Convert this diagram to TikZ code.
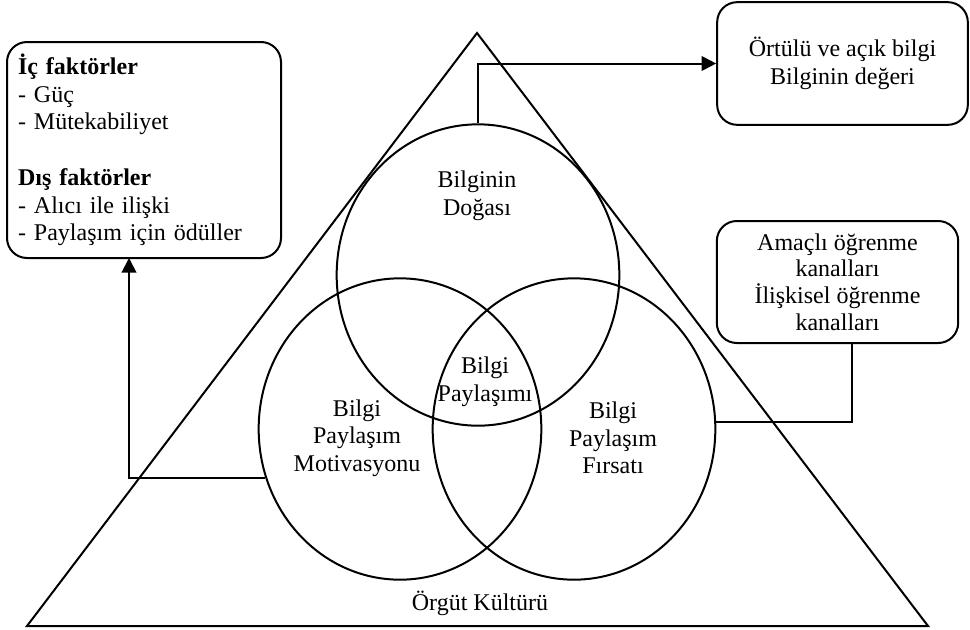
\documentclass[tikz,border=0pt]{standalone}
\usepackage{fontspec}
\setmainfont{Liberation Serif}
\usepackage{tikz}
\usetikzlibrary{positioning, arrows.meta, shapes}
\tikzset{
    kutu/.style={draw, rectangle, rounded corners=15pt, line width=1.5pt, align=center, inner sep=0pt, font=\fontsize{18}{20.8}\selectfont},
    daire/.style={draw, ellipse, line width=1.5pt, minimum width=212pt, minimum height=226pt, inner sep=0pt},
    yazi/.style={align=center, inner sep=0pt, font=\fontsize{18}{20.8}\selectfont},
    conn/.style={-, line width=1.5pt},
    ok/.style={-{Triangle[length=11pt, width=11pt]}, line width=1.5pt},
}
\begin{document}
\begin{tikzpicture}[x=0.75pt, y=-0.75pt]
        \useasboundingbox (0,0) rectangle (970,629);

        \coordinate (tepe) at (477,33);
        \coordinate (solAlt) at (27,626);
        \coordinate (sagAlt) at (928,626);
        \draw[line width=1.5pt, line join=miter] (tepe) -- (solAlt) -- (sagAlt) -- cycle;

        \node[daire] (dogasi) at (478,275) {};
        \node[daire] (motiv) at (400,429) {};
        \node[daire] (firsat) at (574,429) {};

        \node[yazi] (tDogasi) at (477,196) {Bilginin\\Doğası};
        \node[yazi] (tPay) at (485,382) {Bilgi\\Paylaşımı};
        \node[yazi] (tMotiv) at (357,438) {Bilgi\\Paylaşım\\Motivasyonu};
        \node[yazi] (tFirsat) at (613,438) {Bilgi\\Paylaşım\\Fırsatı};
        \node[yazi] (tKultur) at (480,603) {Örgüt Kültürü};

        \node[kutu, minimum width=205.5pt, minimum height=162pt, align=left, text width=189pt] (faktor) at (144,150)
            {\textbf{İç faktörler}\\- Güç\\- Mütekabiliyet\\[20.8pt]\textbf{Dış faktörler}\\- Alıcı ile ilişki\\- Paylaşım için ödüller};
        \node[kutu, minimum width=188pt, minimum height=92pt] (ortulu) at (842.5,63.5)
            {Örtülü ve açık bilgi\\Bilginin değeri};
        \node[kutu, minimum width=181pt, minimum height=91.5pt, font=\fontsize{18}{20}\selectfont] (kanal) at (837.5,282)
            {Amaçlı öğrenme\\kanalları\\İlişkisel öğrenme\\kanalları};

        \coordinate (faktorAlt) at (129,258);
        \coordinate (kanalAlt) at (852,343);

        \draw[ok] (dogasi.north) |- (ortulu.west);
        \draw[ok] (motiv.200) -| (faktorAlt);
        \draw[conn] (firsat.3) -| (kanalAlt);
\end{tikzpicture}
\end{document}
